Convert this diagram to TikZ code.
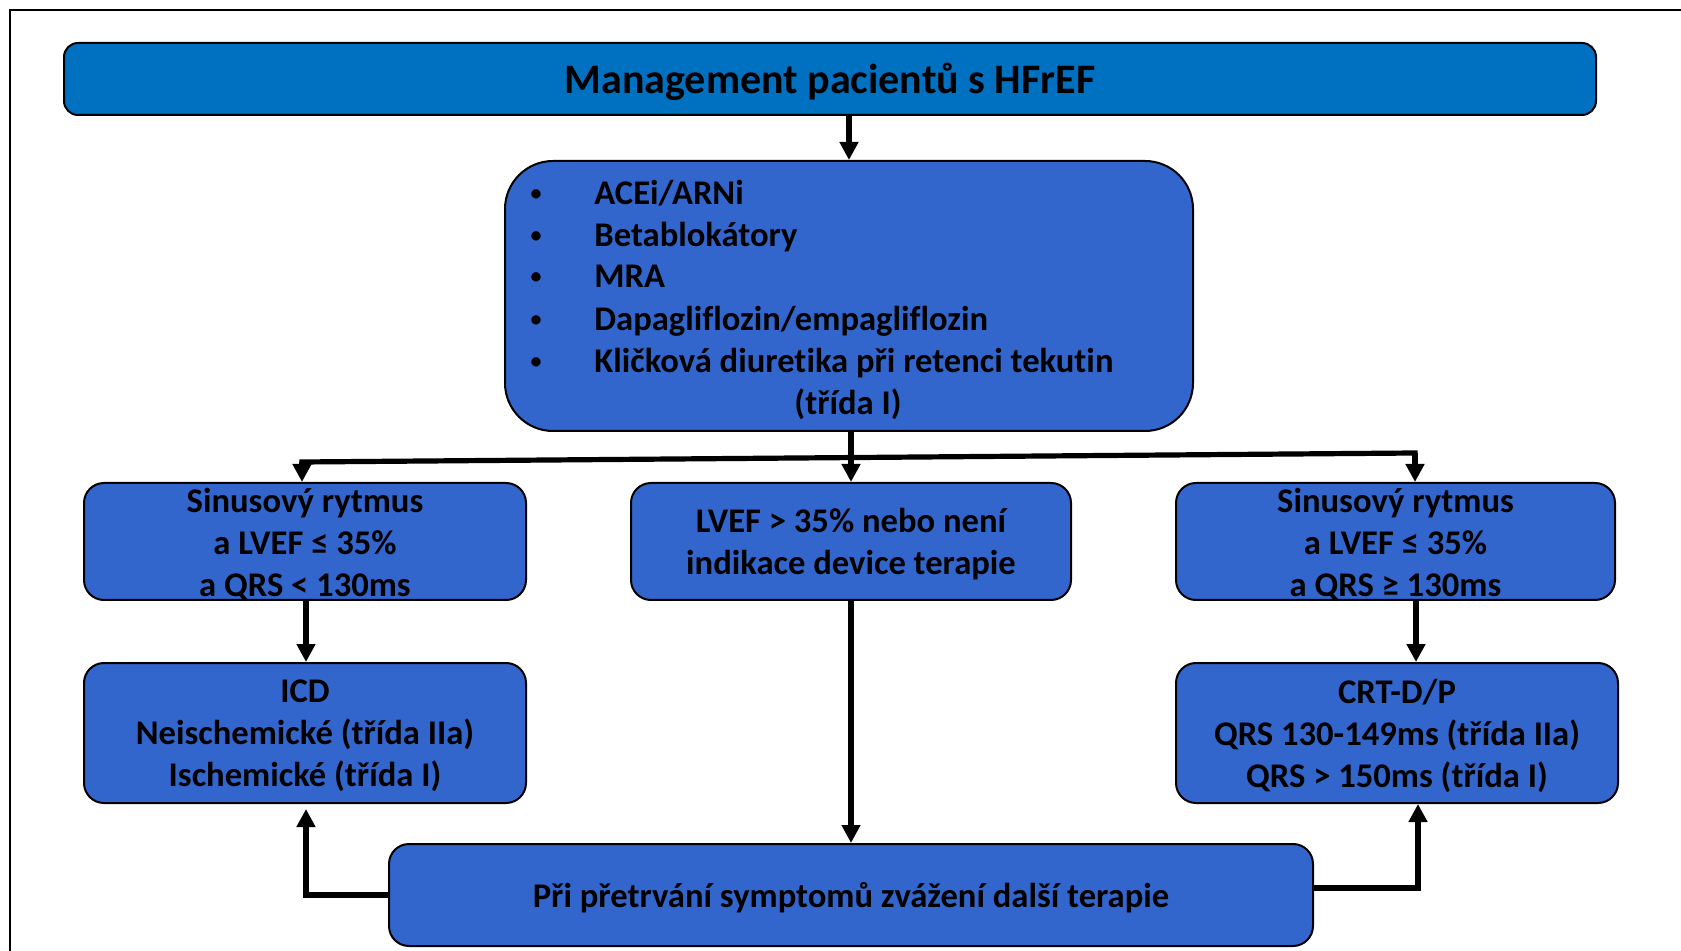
\documentclass[tikz,border=0pt]{standalone}
\usepackage{fontspec}
\setmainfont{Carlito}[Ligatures=NoCommon]
\usetikzlibrary{arrows.meta}
\definecolor{headblue}{HTML}{0070C0}
\definecolor{boxblue}{HTML}{3366CC}
\tikzset{
  boxtext/.style={font=\fontsize{17.3}{21}\selectfont\bfseries, text=black,
    align=center, inner sep=0pt},
  box/.style={draw=black, line width=1pt, fill=boxblue, rounded corners=10pt,
    inner sep=0pt},
  headbox/.style={draw=black, line width=1pt, fill=headblue, rounded corners=7pt,
    inner sep=0pt},
  headtext/.style={font=\fontsize{21}{25}\selectfont\bfseries, text=black, inner sep=0pt},
  listtext/.style={font=\fontsize{17.3}{21}\selectfont\bfseries, anchor=base west, inner sep=0pt},
  bullet/.style={font=\fontsize{11}{13}\selectfont\bfseries, anchor=base, inner sep=0pt},
  conn/.style={line width=2.6pt, draw=black},
  arr/.style={conn, -{Triangle[length=9pt,width=9pt]}},
  frameline/.style={line width=1pt, draw=black}
}
\begin{document}
\begin{tikzpicture}[x=0.5pt, y=-0.5pt]
\useasboundingbox (0,0) rectangle (1681,951);
\clip (0,0) rectangle (1681,951);

% outer frame
\draw[frameline] (10,1000) -- (10,10) -- (1720,10);

% heading
\node[headbox, minimum width=766pt, minimum height=36pt] (title) at (830,79) {};
\node[headtext, yshift=-1.5pt] (titletext) at (title) {Management pacientů s HFrEF};

% basic therapy box
\node[box, rounded corners=24pt, minimum width=344pt, minimum height=135pt] (main) at (849,296) {};
\foreach \y in {201,243,284,327,369} {
  \node[bullet] at (536,\y) {•};
}
\node[listtext] (l1) at (594,205) {ACEi/ARNi};
\node[listtext] (l2) at (594,247) {Betablokátory};
\node[listtext] (l3) at (594,288) {MRA};
\node[listtext] (l4) at (594,331) {Dapagliflozin/empagliflozin};
\node[listtext] (l5) at (594,373) {Kličková diuretika při retenci tekutin};
\node[listtext, anchor=base] (l6) at (848,415) {(třída I)};

% indication boxes
\node[box, minimum width=221pt, minimum height=58.5pt] (left) at (305,541.5) {};
\node[boxtext, yshift=-1.5pt] (lefttext) at (left)
  {Sinusový rytmus\\a LVEF ≤ 35\%\\a QRS < 130ms};
\node[box, minimum width=220pt, minimum height=58.5pt] (mid) at (851,541.5) {};
\node[boxtext, yshift=-1.5pt] (midtext) at (mid)
  {LVEF > 35\% nebo není\\indikace device terapie};
\node[box, minimum width=219.5pt, minimum height=58.5pt] (right) at (1395.5,541.5) {};
\node[boxtext, yshift=-1.5pt] (righttext) at (right)
  {Sinusový rytmus\\a LVEF ≤ 35\%\\a QRS ≥ 130ms};

% device boxes
\node[box, minimum width=221pt, minimum height=70pt] (icd) at (305,733) {};
\node[boxtext, yshift=-1.5pt] (icdtext) at (icd)
  {ICD\\Neischemické (třída IIa)\\Ischemické (třída I)};
\node[box, minimum width=221pt, minimum height=70pt] (crt) at (1397,733) {};
\node[boxtext, yshift=-1.5pt] (crttext) at (crt)
  {CRT-D/P\\QRS 130-149ms (třída IIa)\\QRS > 150ms (třída I)};

% follow-up box
\node[box, minimum width=462pt, minimum height=51pt] (bottom) at (851,895) {};
\node[boxtext, yshift=-1.5pt] (bottomtext) at (bottom)
  {Při přetrvání symptomů zvážení další terapie};

% connectors
\draw[arr] (main.north |- title.south) -- (main.north);
\draw[arr] (main.south -| mid.north) -- (mid.north);

\coordinate (jl) at (302,462);
\coordinate (jr) at (1415,453);
\coordinate (rx) at (1416,0);
\coordinate (lx) at (306,0);
\coordinate (rx2) at (1418,0);

\draw[conn, line cap=rect] (jl) -- (jr);
\draw[arr] (jl) -- (jl |- left.north);
\draw[arr] (jr) -- (jr |- right.north);

\draw[arr] (left.south -| lx) -- (icd.north -| lx);
\draw[arr] (right.south -| rx) -- (crt.north -| rx);

\draw[arr] (mid.south) -- (bottom.north);

\draw[arr] (bottom.west) -| ([yshift=-2.5pt]icd.south -| lx);
\draw[arr] ([yshift=3.5pt]bottom.east) -| (crt.south -| rx2);
\end{tikzpicture}
\end{document}
